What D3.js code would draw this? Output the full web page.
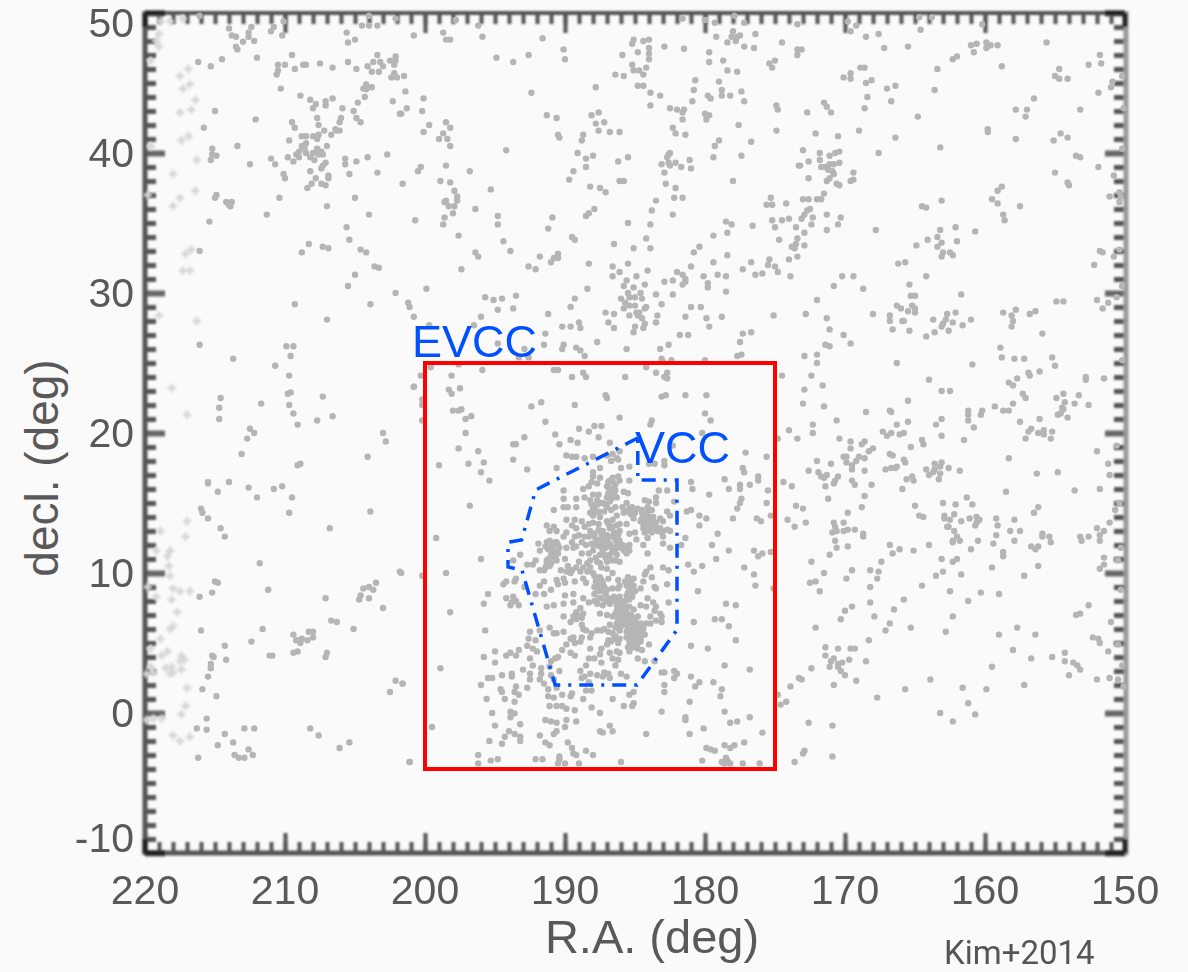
<!DOCTYPE html>
<html><head><meta charset="utf-8">
<style>html,body{margin:0;padding:0;background:#fafafa}svg{display:block}</style>
<script src="https://cdn.jsdelivr.net/npm/d3@7/dist/d3.min.js"></script></head><body>
<svg id="c" width="1188" height="972"></svg>
<script>
const xTickLabels=[220,210,200,190,180,170,160,150];
const yTickLabels=[50,40,30,20,10,0,-10];
const evccBox={raMax:200,raMin:175,decMax:25,decMin:-4};
const vccOutline=[[184.8,19.64],[192.1,15.93],[193.1,12.36],[194.07,12.2],[194.07,10.43],[193.07,10.2],[190.7,2],[184.86,2],[182,5.93],[182,16.64],[184.8,16.64],[184.8,19.64]];
const faintEdge=[[218.9,49.4],[218.2,49.4],[217.3,49.6],[219,48.5],[219.2,48],[219,47.6],[219.6,46.6],[216.9,46],[217.5,45.5],[216.8,44.9],[217.3,44.6],[216.4,43.8],[216.7,43.1],[217.5,42.9],[216.9,41.2],[217.4,40.9],[219.6,40.5],[216.3,39.5],[218,38.5],[216.4,37.3],[217.5,36.8],[218,36.2],[219.8,37],[216.7,33.1],[217.1,32.8],[217.3,31.6],[216.8,31.6],[219,28.4],[216.3,28],
[218.1,23.2],[217,21.3],[217,13.7],[218.9,13],[217.1,12.6],[219.2,11.6],[218.2,11.6],[218.4,11.2],[218.3,10.5],[218.2,9.8],[219.8,9],[218,8.9],[217.5,8.7],[216.8,8.7],[219.2,8.3],[218.1,8.1],[217.7,7.2],[218,6.2],[218.2,6],[218.9,5.3],[219.6,4.6],[218.4,4.4],[218.8,4.1],[217.4,4.1],[217.5,3.7],[217.2,3.8],[219.6,3.3],[219.9,2.8],[219.4,2.9],[218.5,3.2],[218.1,3.3],[218,2.9],[218.2,2.8],[217.4,3.1],[217,1.8],[217.1,0.5],[217.4,-0.1],[219.9,-0.5],[219.4,-0.4],[218.8,-0.4],[218,-1.6],[217.5,-2],[216.8,-1.7]];
const northWest=[[216.1,49.8],[210.1,49.4],[210.2,48.4],[210.8,49],[211,48.7],[214,48.9],[212.4,49],[212.6,48.6],[212.6,48.3],[213.8,48.4],[213.5,48.3],[213,47.95],[212.2,48],[213.5,47.6],[213.4,47.4],[212,46.8],[216.2,46.5],[215.3,46.2],[214.5,46.7],[209.5,47],[210.5,46.3],[210,46.3],[209.3,46],[208.7,46.3],[208.5,46.3],[207.5,46.4],[206.6,46.1],[210.5,45.9],[210.6,45.6],[210.3,44.6],[205.6,48.6],[205,48.1],[205.5,47.9],[204.5,49.1],[204,49.1],[203.4,49.1],[204,49.8],[202.1,49.6],[205.5,46.5],[204.9,46],[203.4,47],[203.7,46.5],[204.1,46.2],[203.8,45.8],[203.3,45.8],[203.2,46.5],[203,46.2],[202.5,46.6],[202.1,46.9],[202.1,46.6],[202.2,46.3],[202.2,45.7],[202.4,45.4],[202,45.4],[204.2,44.9],[204.4,44.6],[204.2,44.55],[203.8,44.7],[204.3,44],[204.8,43.6],[202.3,43.7],[205.1,43],[205.9,43.2],[201.8,42.8],[208.9,44.1],[208.2,43.8],[207.8,43.5],[208,43.2],[207.1,43.4],[207.1,43.7],[206.6,43.9],[215,43],[212.1,42.4],[215.8,41.8],[209.5,42.2],[209.3,41.8],[207.7,42.5],[207.6,42],[206,42.5],[206.1,42.2],[204.9,42.5],[204.6,42.2],[207.2,41.6],[206.4,41.7],[206.3,41.6],[206.1,41.6],[206.7,41.3],[208.8,41.2],[208.5,41.2],[208,41.2],[207.6,41.3],[207.7,41],[209.7,40.9],[213.4,40.5],[215.2,40.3],[214.9,39.8],[215.2,39.9],[215.3,39.5],[212.5,39.2],[211,39.6],[210.7,39.2],[209.8,39.7],[209.4,39.4],
[208.5,40.7],[208.8,40.5],[208.6,40.3],[209,40.1],[209.2,39.9],[209,39.7],[208.5,40],[208.2,39.7],[207.9,39.5],[207.7,40.3],[207.4,40.1],[207.6,39.9],[207,40.5],[207.3,39.9],[208,40],[207.1,39.3],[207.3,39.1],[207.4,38.9],[208.2,38.7],[210.1,38.5],[210,38.2],[207.8,38.2],[206.9,38.4],[206.9,38.2],[208.1,37.8],[207.4,37.8],[207.1,37.7],[208.4,37.5],[205.7,39.6],[205.7,39.2],[204.9,39.4],[204.1,39.7],[202.7,39.9],[203.4,38.6],[205.4,38.5],[210.4,36.8],[205,36.8],[214.9,37],[215,36.8],[214.2,36.5],[213.8,36.5],[214,36.3],[213.9,36.2],[207,36.2],[215.4,35.1],[211.3,35.6],[204,35.6],[205.6,34.7],[205.4,33.8],[208.3,33.5],[208.8,32.9],[207.3,33.3],[206.9,33.2],[204.6,33.1],[204.2,32.9],[216.1,33],[203.6,31.9],[203.3,31.8],[205,31.3],[205.5,30.5],[202.1,30],[209.3,29.2],[203.9,29.2],[207,28.1]];
const northCentre=[[197.8,49.5],[196.2,49.1],[200.8,48.4],[198.7,48.6],[198.5,48.1],[198.2,48.1],[195.9,48.3],[191.6,48.2],[194.9,46.8],[193.7,46.5],[192.6,47],[190.1,47.4],[190,46.7],[201.5,45.5],[201.4,44.4],[192.4,44.3],[200.1,43.9],[200.2,43],[201.3,43.2],[201.7,42.8],[191.3,42.7],[190.6,42.5],[198.5,42.2],[199.7,42],[198.2,41.8],[200.1,41.5],[198.7,41.4],[198.4,41],[199,41],[198.2,40.5],[194.2,40.2],[198.5,39.1],[200.3,39],[200.5,38.7],[196.8,38.7],[198.9,38],[198.2,37.9],[201.6,37.8],[195.3,37.4],[197.9,37.3],[197.7,36.9],[197.7,36.6],[198.5,36.6],[198.6,36.5],[198.3,36.2],[197.9,36.2],[198,35.7],[198.6,35.4],[198.7,34.9],[200.7,35.2],[196.4,36],[194.8,35.5],[194.8,34.9],[197.6,34.1],[194.4,33.7],[193.9,33],[196.4,32.9],[196.2,32.6],[197.4,31.7],[199.9,30.3],[195.7,29.7],[195.1,29.5],[194.5,29.6],[193.5,29.8],[194.8,28.8],[193.7,28.9],[201.2,29.3],[201.1,29],[200.8,28.3],[196,28.3],[196.5,27.7],[199.7,27.7],
[191.8,32.6],[192.6,31.9],[192.1,31.7],[191,32.2],[190.5,32.8],[190.5,32.5],[190.8,32.5],[191.2,34.6],[190.9,35.4],[189.5,34],[189.3,33.8],[188.3,32.1],[188.4,30.3],[189.3,29.6],[189.6,29],[191.2,28.5],[190.2,27.6],[189.6,27.6],[189,27.9],[188.9,27.5],[191.4,27.1],
[190.5,41.3],[190.4,41.1],[188.7,41.3],[188.8,40.9],[188.1,42.7],[187.6,42.9],[187.2,42.2],[187.8,42.1],[187.6,41.6],[186.8,41.5],[186.1,41.5],[189.1,40],[188.5,39.6],[188,39.8],[188.5,39],[189.4,38.7],[189.7,38.1],[188.2,37.6],[187.5,37.5],[187.1,37.2],[186.2,39.4],[185.5,39.7],[186.1,38],[185.8,38],[187.9,36],[188.3,35.7],[188.5,35.5],[187.8,44.7],[186.4,45.6],[185.8,45.5],[185.9,47],[185.2,47.8],[185.1,48.1],[184.4,48],[184,48.1],[184,47.5],[184.8,47.2],[184,47.1],[184,46.7],[185.2,46.3],[185.1,45.9],[184.7,45.9],[184.2,46.1],[184.4,45.6],[184.8,44.8],[184.4,44.8],[183.9,44.3],[183.2,44.1],[183.9,43.4],[182.9,47.6],[181.5,47.45],[179.7,47.2],[179.7,46.5],[178.7,46.6],[178.4,45.9],[177.7,45.8],[179,45.1],[180.7,45.2],[180.8,44.5],[180.9,43.7],[178.8,44.5],[178.8,44.1],[178.2,44.1],[179.8,44.1],[179.6,43.9],[177.4,44.4],[177.2,43.7],[175.4,46.4],[175.2,46.1],[175,46.6],[174.9,43.4],[174.8,43.1],[174.5,47.9],[176.4,48.5],[176.5,47.5],[177.2,47.6],[178.4,47.9],[178.1,48.3],[178,48.7],[177.7,48.3],[177.5,48.4],[177.8,48],[179.2,48.3],[179.3,49.3],[177.2,49.3],[177.9,49.8],[180,49.5],[181.6,49.6],[173.4,49.2],[173.4,47.4],[173.4,47],
[182.5,43.2],[182,43.1],[181.5,43.1],[181.6,42.9],[181.6,42.4],[180,42.8],[179.7,42.7],[179.9,42.4],[177.6,42],[174.9,41.6],[182.3,41.8],[182.1,41.4],[181.4,41.3],[179,40.9],[179.3,40.5],[176.7,40.8],[179.4,39.7],[177.4,39.8],[173.3,39.1],[182.6,39.9],[182.7,39.7],[182.5,40],[183.1,39.2],[182.6,39.3],[182.5,39.1],[182.1,39.3],[181.7,39],[181.1,39.5],[181,38.9],[182.9,38.6],[178,38],[182.8,37.8],[182.1,37.5],[182.2,36.8],[181.6,36.8],[183.5,36.6],[183.8,35.9],[182.3,35.6],[185.5,35],[183.9,34.9],[184.2,33.9],[183.9,33.2],[185.1,33.2],[186.5,33.5],[180.4,33.3],[180.8,32.9],[179.4,34.1],[178.4,34.3],[178.5,35.1],[178.1,34.9],[176.6,34.8],[178.4,32.7],[175.2,35.2],[174.5,35.2],[174,35.3],[175,34.7],[173.5,34.7],[174.7,33.8],[173.4,33.9],[173.5,33.5],[173.8,33.3],[173.6,33.2],[175.3,36.8],[175.6,36.3],[175.2,36.3],[174.2,36.4],[176.7,32.2],[177.3,31.7],[176.4,31.3],[175.9,31.4],[175.4,32.4],[175.5,32],[175,31.9],[174.8,31.5],[174,32.4],[173.9,31.2],[173.4,32.6],[179.4,32.2],[181,31.9],[180.1,31.2],[179.1,31.3],[178.5,31.2],[178.5,30.1],[179.8,30.7],[179.8,30.4],[182,31.5],[181.6,31.3],[181.4,31],[181.4,30.8],[181.6,30.6],[182.9,30.8],[182.3,30.9],[185.5,32.1],[186.6,31.9],[186.1,31.5],[186.6,31.2],[184.1,31.6],[184.9,31.2],[185.6,30.9],[185.8,30.5],[184.3,30.6],[185.1,30.4],[183.5,29.9],[182.3,29.9],
[185.5,30],[184.6,30],[185.4,29.7],[185,29.7],[184.5,29.6],[186,29.6],[185.7,29.3],[185.4,29.1],[185,29.1],[184.2,29],[183.1,29.2],[185.8,28.9],[184.3,28.9],[184.9,28.6],[184.7,28.6],[185.4,28.4],[184.8,28.4],[184.5,28.2],[183.4,28.4],[183.5,27.9],[184.3,27.8],[185,27.6],[184.4,27.5],[187.1,28.6],[186.5,28.5],[186.9,27.9],[186.5,27.5],[185.1,27.2],[181.8,27],[181.2,27],[181,29],[180.3,29],[181.4,28.3],[179.9,28.2],[178.8,28.3],[179.7,27.6],[175.1,28.4],[176.7,27.2],[177.3,27.1]];
const northEast=[[169.8,49.4],[169.2,49.1],[169.6,48.7],[164.7,49.7],[163.8,49.7],[164.6,48.8],[160.2,49.2],[168.5,48.3],[167.6,48.5],[167.2,47.5],[165.5,47.6],[161,47.7],[160.6,47.8],[159.9,47.9],[159.6,47.7],[159.9,47.5],[159.1,47.7],[160.8,47.2],[162.3,46.7],[162,46.9],[163.4,46],[158.8,46.2],[155.6,47.9],[151.8,47],[151.7,46.4],[152.6,46.3],[154.7,46],[155,45.5],[154.7,45.3],[154.1,45.3],[150.9,45.1],[151,44.7],[151.9,44.3],[150.2,45.5],[173.1,47.4],[169.6,45.7],[168.9,46.1],[168.6,46.1],[170.1,45.4],[169.6,45.3],[168.1,45.2],[168.5,45],[167,44.6],[166.4,44.8],[163.6,44.5],[168.4,44],[166.7,43.7],[168.6,43.2],[171.5,43.6],[171.3,43.3],[171,42.9],[172.7,42.9],[164.8,42.6],[156.5,43.9],[157.8,43.1],[157,43.1],[157.1,42.6],[153.2,43.1],[150.1,43.2],[159.8,41.7],[159.8,41.5],[157.8,41],[154.6,41.4],[154.1,41.1],[155.1,40.9],[169,41.6],[172.1,41.4],[170.5,41.2],[166.4,41.1],[163.2,40.4],[167.6,40],[173,40.2],[171.8,40],[170.4,40.1],[170.7,40],[171.1,39.8],[171.8,39.5],[172.6,39.4],[153.5,39.8],[153.2,39.7],[150.2,40.3],[151.9,39],[155,38.6],[150.8,38.4],[169.4,38.6],[170.4,39.3],[171.1,39.2],[170.8,39.2],[171.7,39],[171.4,39],[171.2,38.8],[170.9,38.7],[170.8,38.5],[172.6,38.2],[171.3,38],[171.1,38.2],[170.6,37.8],[170.4,37.7],[169.6,38],[169.4,38.1],[173.2,39.1],[158.8,37.6],[159.1,37.3],[154.1,37.9],[154,37.7],[159.5,36.7],[159.1,36.4],[157.5,36.2],[158.7,35.6],[158.6,35.2],[151.1,36.9],[150.4,37.2],[150.3,36.9],[150.4,36.5],[164.5,36.2],[164.2,36.1],[163.1,36.6],[171.5,37.1],[172,36.7],[171.7,36.7],[173,36.7],[172.6,36.7],[170.3,35.4],[171.3,35.6],[172.3,35.4],[172.7,35.9],[172.5,36],[172.9,35.6],[173.1,35.3],[172.4,34.9],[170.5,34.9],[171.3,34.5],[172.9,34.3],[172.9,33.4],[167.8,34.5],[163.2,34.5],[162.1,34.7],[160.7,34.4],[163.4,34],[163.1,33.6],[164.1,33.8],[162,33.7],[163.4,33.3],[164.9,33.4],[163,32.9],[163.1,32.6],[162.5,32.9],[162.3,32.7],[165.7,32.2],[166.2,32.1],[151.8,33],[151.6,32.9],[150.4,33.1],[150.8,32.6],[152.2,32],[164.2,31.2],[170.2,31.2],[169.4,31.2],[170.8,30.5],[168.7,30.3],[165.4,30.6],[172,29.5],[165.3,29.8],[165,29.8],[161.7,29.9],[150.2,30.5],[150.6,29.7],[166.3,29.1],[166,28.9],[165.2,29.1],[165,28.9],[165,28.6],[165.5,28.7],[172.8,28.5],[168,28.5],[166.8,28.4],[166.8,28],[165.9,28],[165.8,28],[171.3,28.2],[171.1,27.4],[170.1,27],[166.6,27.4],[165.4,27.3],[164.2,26.9],[163.6,27.2],[162.6,27.3],[163.7,28.1],[162.7,28.5],[162.1,28.6],[162.8,28.1],[163,27.8],[163.1,27.6],[162.3,27.9],[161.6,27.7],[161,28.1],[158.7,28.6],[158.1,28.4],[157.8,28.8],[158,28],[158.1,27.6],[156.8,28.5],[156.4,28.7],[155.9,27.1],[154.9,29.4],[154.4,29.4],[152,29.5],[151.2,29.3],[151.6,28.9]];
const southEast=[[171.4,26.3],[171.1,26.2],[169.6,26.4],[172.9,25.5],[172,25.6],[172,25],[166.3,25],[160.9,24.9],[158.9,26.1],[158.8,25.4],[157.9,25.3],[157.2,25.3],[155.2,25.4],[155,24.8],[150.2,25.2],[172.4,24.1],[171.6,23.4],[172.9,23.1],[164,23.8],[163.1,23],[162.5,23],[156.9,24.3],[156.8,24.1],[156.1,24.4],[157.7,23.9],[158.3,23.6],[158,23.4],[152.8,24],[152.8,23.8],[151.5,23.9],[157.3,22.8],[157.1,22.5],[154.4,22.8],[154.9,22.5],[153.3,22.7],[173,22.1],[171.5,21.9],[165.5,22.3],[158,22.1],[159.3,21.9],[158.7,21.6],[158.3,21.6],[154.3,22.2],[153.6,22.1],[152.6,22],[154.5,21.8],[154.4,21.7],[154.8,21.3],[154.6,21.4],[154.1,21.1],[168.5,21.5],[166.8,21.6],[166.7,21.5],[161.2,21.6],[161.2,21.3],[160.2,21.6],[160.3,21.3],[163.1,21],[161.2,20.9],[170.6,20.9],[165.5,20.8],[163.5,20.6],[166.3,20.6],[172.3,20.6],[160.8,20.4],[157.5,20.8],[156.1,21],[156.7,20.3],[156.9,20.1],[155.2,20.1],[155.8,20.2],[156.2,20],[155.8,19.9],[155.3,19.6],[157.1,19.6],[167.3,20.1],[166.7,20],[167,19.8],[166.1,19.9],[165.8,20],[172.3,20],[163.1,19.8],[170.4,19.6],[161.5,19.5],[169.6,19.4],[168.6,19.4],[168.8,19.2],[164.5,19.5],[164.4,19.2],[165.3,19],[168,18.9],[168.3,18.7],[169.6,18.9],[166.8,18.5],[166.6,18.4],[152,18.7],[150.6,19.1],[158.3,18.2],[170.1,18.3],[169.9,18.3],[169,18.3],[169.2,18],[169.5,17.7],[169.9,17.9],[169.5,17.4],[168.6,18.2],[172,18],[171,17.8],[165.8,18.1],[165.7,17.9],[163.1,17.9],[163.6,17.8],[151.2,17.8],[162.6,17.5],[161.8,17.3],[163.2,17.6],[164.2,17.4],[163.6,17.4],[164,17],[163.7,17.2],[163.2,17.1],[163.3,16.7],[166.3,17.6],[166.4,17.5],[166.7,17.5],[167.1,17.4],[168.6,17.3],[172.6,17.3],[171.9,17.2],[171.7,16.9],[171.5,16.8],[171.3,17],[170.5,16.9],[170.7,16.6],[170.8,16.4],[169.5,16.6],[169.3,16.3],[171.4,16.2],[168.1,16.3],[165.6,16.7],[165.2,16.9],[165.1,16.6],[165.9,16],[156.3,17.1],[154.8,17.2],[151.1,17],[153.6,15.9],[151.8,16],[158.5,15.8],[171.2,15.3],[168.6,15.5],[168.8,14.7],[173,14.6],[165,14.8],[163,15],[161.3,15.4],[162.1,14.9],[160.9,14.9],[150.4,15],[156.2,14.7],[150.7,14.5],[156.5,14.3],[169.8,14.3],[164.7,14.1],[164.4,14],[162.2,14.2],[162.9,14.1],[162.9,13.9],[162.5,13.8],[161.7,13.7],[161.1,13.9],[160.6,14],[160.4,13.8],[160.7,13.4],[160.6,13.6],[159.2,13.9],[159.1,13.4],[157.9,13.8],[151.1,13.6],[172.8,13.6],[170.8,13.6],[170.7,13.3],[170.1,13.6],[162.7,13.3],[162.6,13.3],[152,13.2],[169.3,13.1],[169.8,13.1],[170.1,13],[170.6,13],[170.9,12.9],[168.7,12.8],[168.7,12.6],[162.2,13],[158.2,13],[157.5,13],[151.5,13],[151.8,12.7],[162,12.6],[161.8,12.3],[162.3,12.3],[162.3,12.2],[155.9,12.8],[155.9,12.6],[155.4,12.6],[159.2,12.7],[153.2,12.6],[153.1,12.3],[152.6,12.6],[151.8,12.3],[160.5,12.3],[157.9,12.3],[155.3,12.2],[159.4,12.1],[170.7,12.3],[166.8,12],[164,12],[169.8,11.9],[170.6,11.8],[166.1,11.7],[165.1,11.6],[161,11.7],[156.7,11.9],[156.4,11.7],[156.2,11.9],[150.3,11.8],[166.6,11.4],[171.1,11.3],[158.7,11.5],[158.7,11.2],[163.1,11],[162,11],[162.3,10.8],[167.4,10.8],[151.5,11.1],[150.5,10.9],[172.4,10.8],[151.8,10.3],[151.5,10.6],[156.2,10.5],[159.5,10.4],[169.5,10.2],[168.2,10.2],[167.6,10.1],[163,10.1],[161.7,9.9],[171.5,10],[157.2,9.8],[163.5,9.8],[167.7,9.6],[169.9,9.6],[172.1,9.4],[172.5,9.3],[164.5,9.1],[168.2,9],[171.8,8.7],[162.5,8.7],[150.3,8.8],[160.3,8.6],[159,8.5],[161.2,8],[165.8,8.1],[168.2,7.9],[152.6,7.7],[169.5,7.6],[170,7.3],[166.5,7.4],[153.5,7],[153.2,7.1],[162.3,6.9],[167.9,6.9],[170.3,6.7],[151,6.5],[166.8,6.4],[172.1,6.1],[165.3,6.1],[157.7,6.1],[167.1,5.9],[162.8,5.8],[159,5.6],[156.4,5.6],[152.3,5.4],[151.9,5.3],[151.8,5],[168.3,5.2],[171.4,4.7],[170.5,4.6],[169.6,4.6],[169.3,4.6],[158,4.5],[151.2,4.4],[150.5,4.9],[154.3,4.3],[171.4,4.1],[170.8,3.9],[171,3.7],[169.7,3.8],[170.2,3.6],[170.5,3.5],[168.5,3.7],[156.7,3.9],[155.2,4],[154.3,3.7],[153.7,3.6],[153.4,3.4],[153.2,3.1],[150.2,3.4],[171.1,3.3],[170.5,3.3],[172.4,3.2],[159.5,3.3],[170.3,3],[170,2.7],[154,2.7],[152,2.4],[151.1,2.5],[150.5,2.4],[173.1,2.4],[169.2,2.3],[163.9,2.4],[170.8,2],[165.7,1.7],[161.6,1.8],[159.9,1.7],[157.2,2],[150.1,1.9],[167.7,1.1],[161.2,0.7],[163.2,0],[160.7,-0.1],[162.3,-0.6],[172.6,-0.7],[170.9,-0.9],[172.9,-2.7],[173,-2.9],[170.9,-3.1]];
const evccField=[[191.5,26.3],[190.1,26.3],[190.2,26],[189.2,26.1],[188.9,25.9],[188.6,25.5],[187.7,26.5],[185.6,26],[183.2,26],[182.6,26.3],[177.5,26.5],[177.4,25.6],[177.7,25.5],[183.1,25.3],[183,25.1],[182.4,25.2],[180,25.2],[193.3,25.4],[192.9,26],[192.6,25.4],[194.8,26.4],
[199.6,24.7],[197.6,24.9],[200.3,24.1],[198.1,24.1],[195.9,24.5],[200.8,23.3],[198.3,23.1],[198.1,22.8],[197.5,23.2],[200.2,22.4],[200.2,22],[198,21.6],[197.6,21.6],[197.4,21.7],[196.7,21.2],[197.1,21],[200.2,20.9],[197.1,20],[197.6,18.9],[196.2,18.7],[195.8,17.9],[196.9,17.8],[199,17.7],[196,17.2],[195.4,16.6],[196.8,14.8],[199.2,12.5],[196,11],[198.5,10],[200.2,9.8],[201.7,10],[198.2,7.2],[195.7,5.9],[198.9,3.2],[201.6,2.1],[199.5,-1],[201.1,-3.5],[196.2,-3],[196.2,-3.6],[195.3,-3.4],[194.8,-3.3],[195.4,-2],[194.5,-2.2],[194.3,-1.7],[194,-1.3],[193.6,-1.5],[193.2,-1.7],[193.2,-2],[193.2,-0.8],[195,-0.9],[195.2,0],[193.9,0.1],[193.9,-0.3],[193.6,-0.03],[195.6,1],[194.3,1],[193.6,0.8],[196,2],[195.5,2.5],[195.2,2.5],[194.6,1.7],[194.5,1.5],[194.5,2.7],[193.8,2.8],[193.8,2.6],[193,3.1],[193.5,1.9],[193.6,1.5],[193.3,1.3],[192.7,1.8],[195.8,4],[195,4.4],[195,3.6],[194.2,4.1],[193.9,4.3],[193.3,4.5],[193.5,4.1],[192.5,5.8],[192.6,5.3],[192.7,4.8],[192.1,5.2],[192.3,4.6],[192,4.4],[192.5,3.9],[192.3,3.4],[192.5,2.8],[192.5,2.4],[191.7,3.2],[191.7,2.8],[191.8,2.4],[191.5,2.1],[191.2,1.7],[191.2,1.2],[190.8,1.1],[191.1,0.5],[190.6,0.5],[190.2,0.5],[189.9,0.3],[189.3,0.2],[189.6,1.2],[190.2,1.3],[190.6,1.8],[188.7,1],[188.1,0.4],[187.5,0],[191.4,-0.5],[191,-0.6],[190.6,-0.7],[189.9,-0.5],[189.2,-0.6],[190,-1],[190.8,-1.5],[190.6,-1.3],[191.8,-1.6],[191.4,-2.1],[191.1,-2.3],[189.8,-2.1],[189.5,-2.5],[189.4,-2.9],[189.2,-3],[188.5,-2.7],[188,-3],[190.4,-3.1],[190.4,-3.3],[192.1,-3.3],[191.6,-3.3],[190.5,-3.6],[190,-3.6],[189,-3.6],[186,-3.5],[187.5,-1.3],[187.3,-1.4],[186.8,-0.9],[186.6,-1.3],[184.2,-1.5],[185.8,0.5],[185.2,0.5],[185.1,0.7],[185.4,1.3],[185.1,1.5],[186.6,1],[183.1,0.1],[182.9,2],[182.9,1.5],[183.1,2.9],[182.9,2.9],[182.2,3],[182,2.8],[182.2,2.5],[181.1,0.8],[181.4,-0.3],[181.4,-0.5],[180.1,-1.1],[181.1,-1.5],[181,2.6],[180.7,1.9],[180.4,2.2],[179.4,2.2],[178.8,1.7],[178.9,1.2],[178.6,3.4],[176.8,3.1],[174.8,1.3],[174.2,0.8],[174.6,0.6],[173.9,1.9],[173.3,2.5],[178.6,0.1],[178.2,-0.7],[177.7,-0.6],[176.8,-0.3],[175.9,-1.4],[177.2,-2.1],[178.6,-2.3],[178.2,-2.5],[177.9,-2.3],[179.9,-2.5],[179.6,-2.6],[179.3,-2.7],[180.2,-3.4],[178.8,-3.5],[178.5,-3.2],[178.6,-3.6],[178.2,-3.6],[178.4,-3.4],[177.3,-3.6],[176.1,-3.6],[173.6,-3.5],
[174.5,24.1],[182.7,24.3],[182.9,24],[183.5,24.3],[182.7,23.9],[185.7,24],[184.2,24.7],[188.7,24.3],[188.5,24],[189.5,24],[190.8,24.5],[190.5,24.5],[187.1,22.7],[187,22.5],[183.1,22.6],[182.8,22.7],[181.4,22.7],[179.9,22.7],[191.7,22.2],[192.4,21.9],[189.3,22],[180,21.4],[179.6,20.9],[186.1,21.1],[183.8,20.9],[183.9,20.6],[191.4,20.8],[187.4,20.5],[187.9,20.5],[188.3,20.1],[189,20.3],[190.7,19.9],[174,20.2],[173.4,19.6],[174.8,19.6],[180.2,20],[187.6,19.7],[189.6,19.5],[192.9,19.7],[193.7,19.2],[193.5,19.2],[190.4,19.2],[189.1,19.3],[186.8,19.3],[182.3,19.1],[177.1,18.6],[193.7,18.1],[192.7,17.4],[175.6,18.3],[177.3,17.5],[177.2,17.2],[176.2,16.9],[176.2,16.6],[178.6,16.7],[181,16.5],[174.4,16.5],[173.8,16.2],[177.5,16.3],[177.5,16],[176.8,16.3],[178.3,16],[180.9,16],[175.5,15.9],[179.7,15.6],[177.4,15.3],[177.5,15],[175.6,15],[177.7,14.6],[173.5,14.8],[181.3,14.4],[181,14.5],[182.2,15.1],[180.4,14.1],[179.9,13.9],[178,13.9],[176.3,13.9],[176,13.7],[174.1,13.8],[173.6,13.3],[175.3,14.1],[180.4,13.4],[179.1,12.8],[181.4,12.5],[181.7,12],[179.5,12],[178.3,11.6],[176.5,11.6],[176.2,11.2],[175.9,11.4],[175.3,11.5],[179.2,11],[181.2,10.6],[180.2,10.5],[180.8,10.1],[177.2,10.4],[176.5,9.9],[176.4,9.1],[180.5,8.7],[175.1,8.9],[178.5,7.8],[177.8,7.7],[179.3,6.7],[178.8,6.7],[180.8,6.5],[178.3,6.2],[177.8,5.2],[181,4.8],[179.8,4.6],[182.7,9.2],[182.6,10.2],[183,10.4],[182.6,7.9],[183.1,6.5]];
const virgoCore=[[189.9,18.4],[189.5,18.3],[189.2,18.3],[188.6,18.2],[188,18.3],[186.6,18.5],[186.1,18.7],[186.3,18.2],[187,18.4],[190.6,17.5],[187.5,17.5],[188,17.2],[185.4,17.6],[186,17.5],[186.7,18],[186.2,18.1],[184,17.8],[183.6,17.8],[182.9,17.7],[182.9,18],[190.1,15.9],[188.7,16],[188,16.9],[187.5,16.8],[188.1,16.5],[186.8,16.6],[186.2,16.9],[186.6,16.5],[186.1,16.6],[185.4,16.6],[188.3,16.2],[187,16.2],[186.6,16],[187.7,16.4],[186.9,15.7],[186.5,15.6],[185.8,15.8],[185.5,15.7],[188.6,15.4],[187.5,15],[187,15.4],[186.7,15.3],[188.2,15.2],[187.7,15.2],[188.1,14.9],[187.3,15],[189.2,15.3],[190.1,15.3],[185.6,15],[185.2,14.7],[184.3,15.2],[184,15.1],[183.5,15.4],[183.3,15.9],[182.7,15.9],[183.5,15],[190.1,14.7],[189.8,14.7],[189.2,14.7],[190.8,14.5],[188,14.6],[187,14.7],[185.4,14.6],[184.1,14.7],[183.8,14.5],
[188.2,14.3],[188,14.1],[187.5,14],[186.3,14.1],[185.8,14.3],[185.1,13.9],[184.5,13.9],[184.1,14.3],[183.7,14],[182.7,14.4],[182.5,14.1],[183.2,13.9],[186.6,13.8],[187,13.7],[189.9,13.8],[189.3,13.8],[188.8,13.7],[187.6,13.5],[191.3,13.4],[190.8,13.3],[189.5,13.4],[188.6,13.3],[186.1,13.5],[185.6,13.5],[184.6,13.7],[184.2,13.5],[183.7,13.7],[183,13.7],[186.6,13.3],[191.1,13],[190.6,13],[189.9,12.9],[189.2,13.2],[188.2,13],[187.3,13],[186.8,13.2],[186.1,13],[185.4,12.8],[185,12.9],[184.4,13.2],[183.9,13],[183.5,13.2],[183,13],[182.5,13],[190.1,12.6],[189.3,12.6],[187.9,12.6],[187,12.7],[186.6,12.6],[184.9,12.4],[184.1,12.5],[183,12.6],[187.5,12.4],
[191.9,12.1],[191.3,12.2],[190.7,12.2],[190.5,12],[189.5,12.2],[188.8,12.2],[188.1,12.1],[187.7,12],[187.3,12.1],[186.8,12.1],[186.3,12.1],[185.4,12],[184.4,12],[183,12.1],[182.5,11.8],[190.8,11.6],[190.4,11.8],[189.9,11.8],[189.4,11.8],[188,11.6],[187.3,11.6],[186.6,11.8],[185.8,11.6],[185.4,11.6],[184.1,11.4],[193.2,11.3],[191.8,11.6],[191,11.3],[190.5,11.4],[188.8,11.4],[188.3,11.4],[187.5,11.3],[186.8,11.3],[186.3,11.3],[185.6,11.4],[193.7,10.9],[192.1,10.9],[191.1,11],[190.6,10.9],[190,11],[188.2,10.9],[187.7,10.8],[187,10.8],[186.6,10.9],[192.7,10.6],[192.3,10.6],[191.3,10.7],[191,10.7],[189.2,10.4],[188.7,10.4],[188.2,10.4],[187.4,10.4],[187,10.3],[186.1,10.8],[183.9,10.4],[191.5,10.2],[191.8,10.2],[189.9,10.1],[189.5,10.2],[186.6,10],[184.2,10.1],[184.3,9.9],
[193.5,9.6],[194.4,9.2],[194.2,9.4],[193.6,9.4],[190.6,9.5],[190.1,9.6],[189.6,10],[188.7,9.6],[187.5,9.7],[186.9,9.6],[186.2,9.5],[185.5,9.7],[185.1,9.6],[183.8,9.7],[184.4,9.4],[191.5,9.4],[191.8,9.1],[192.9,9],[191,8.8],[188.5,9.3],[187.6,9.1],[187.3,9.3],[186.6,8.9],[185.6,9.1],[185.4,8.9],[183.6,9],[183.5,8.9],[184.6,8.9],[186.2,8.9],[195.5,8.5],[193.7,8.3],[194.2,8.2],[193.8,7.9],[193.5,8],[192.1,8.5],[191.5,8.5],[190,8.4],[189.4,8.5],[188.7,8.2],[188.3,7.9],[187.9,8.5],[187.5,8.7],[187.1,8.5],[186.5,8.3],[186.1,8.3],[185.6,8.4],[185.2,8.3],[193.9,7.7],[193.3,7.7],[191.3,7.6],[190.8,7.7],[190.1,7.8],[189.4,7.9],[187.7,7.8],[187.3,7.7],[186.8,7.8],[186.3,7.7],[184.6,7.7],[184.1,8.2],[183.7,7.9],[183.5,7.6],[184.2,7.6],[195.8,7.8],
[189.2,7.2],[188.7,7.1],[187.5,7.1],[187,7],[186.3,7.3],[186,7.1],[185.6,7.2],[185.1,7.4],[183.6,7.3],[183.2,7.1],[190.1,6.9],[189.4,6.9],[188.8,6.8],[186.6,6.9],[186.1,6.8],[185.6,6.6],[185.1,6.8],[184.8,6.9],[183.9,6.9],[183.5,6.6],[183.1,6.9],[189.6,6.5],[188.8,6.3],[186.8,6.3],[186.3,6.4],[184.6,6.4],[184.2,6.4],[183.9,6.4],[191.1,6.1],[191.8,5.9],[190.8,5.7],[190.6,5.7],[190.1,5.8],[188.7,6],[188.1,5.7],[187.7,5.9],[187.4,5.9],[186.9,5.8],[186.6,5.7],[186.1,5.9],[185.6,5.8],[185.1,6],[184.8,5.9],[184.4,6],[189.4,5.4],[189.6,5.3],[188.8,5.4],[188.2,5.4],[186.9,5.2],[186.1,5.3],[185.6,5.4],[185.2,5.6],[184.9,5.6],[184.5,5.6],[185,5.1],[185.4,5.1],[184.6,5.1],[185.2,6.2],[185,6.4],[184.8,6.3],[185.4,6.4],[185.1,5.8],[184.8,5.7],[185.2,5.3],[184.9,5.3],[184.5,5.9],[184.3,5.6],
[189.9,4.9],[189.3,5],[188.9,5.1],[188.2,4.6],[187.4,4.6],[186.2,5],[185.5,4.7],[185.1,4.7],[184.8,4.6],[184.5,4.5],[184,4.9],[189.6,4.3],[190.2,4.5],[187.5,4.2],[186.8,4.3],[186.3,4.4],[186.1,4.3],[185.4,4.4],[190.5,4],[190.7,3.9],[191,3.7],[189.3,4.1],[188.3,3.9],[187.9,3.9],[186.6,3.9],[186.2,3.8],[184.8,3.9],[184.3,3.7],[183.6,3.7],[188.5,3.4],[187.4,3.6],[186.4,3.4],[191.1,3.3],[190.4,3],[188.9,3],[188.2,2.8],[188.6,2.6],[187.2,2.9],[186.9,2.8],[186,2.8],[185.6,2.6],[191,2.7],[190.8,2.4],[188.8,2.5],[188.3,2.2],[187.7,2.7],[187.3,2.6],[186.8,2.5],[188.5,1.6],[188.1,1.6],[189.5,1.4]];
const virgoDense=[[187.6,13.1],[187.4,12.8],[187.2,12.5],[187,12.3],[186.8,12.6],[186.5,12.9],[186.4,12.4],[186.9,11.9],[187.1,11.8],[187.5,11.9],[187.8,12.3],[188,12],[186.6,11.5],[186.4,11.7],[186.1,12.3],[185.9,12],[186,11.8],[185.7,11.9],[185.5,11.8],[187.2,11.3],[187.1,11.1],[186.9,11],[186.4,10.9],[187.8,11.1],[187.5,10.7],[187.9,12.8],[186.2,12.7],[186.3,13.4],[186.9,13.5],
[186.2,7.5],[186,7.6],[185.8,7.4],[185.7,7],[185.5,6.9],[185.3,7],[185.9,6.8],[185.9,6.5],[185.4,6.7],[185.7,6.3],[185.5,6.1],[185.3,6.1],[186,6.2],[186.2,6.7],[186.4,7.1],[185.8,7.7],[185.4,7.6],[185,6.6],[184.9,6.1],[184.6,6.1],
[185.3,5.9],[185,5.7],[184.7,5.5],[185.3,5.5],[185.1,5.4],[184.8,5],[185.2,4.9],[184.9,4.9],[185,6.2],[184.7,6.1],[185.4,5.8],[184.6,5.3],[184.7,5.9],[185.3,5.2],[184.5,6.2],
[191.2,11.7],[191,11.8],[190.9,12],[190.7,11.5],[190.9,11.2],[191.2,11],[191.3,10.9],[190.7,11.1],[191.1,10.5],[191.4,10.4],[190.6,12.2],[191.1,12.3],[191.4,11.9],
[184.4,13.5],[184.1,13.2],[183.8,13.4],[183.6,13.5],[183.4,13],[183.2,13.2],[183.8,12.9],[183.1,12.9],[182.7,13.1],[184.3,12.9],[184,13.6],[183.5,13.6],[184.5,14.5],[184.3,14.1],[184,14],[184.2,13.9],
[186.6,16.8],[186.4,16.3],[186.9,16.1],[186.7,15.8],[186.4,15.9],[186.9,16.5],[186.3,15.4],[186.8,15.1],[187.1,14.9],[187.9,14.7],[187.7,14.9],[187.6,14.4],[187.9,14.3],[187.6,15.6],[188,15.6],
[187.9,9.8],[187.8,9.4],[187.4,9.5],[187.2,9],[187.9,9],[187.7,8.8],[187.4,8.8],[187,8.8],[186.9,8.2],[187.4,8.2],[187.6,8.2],[187.9,8],[187.1,8],[186.7,8.1],[186.4,8],[186,8],[185.7,8],[185.4,8.1],[185.3,9.3],[185.7,9.4],[185.1,9.1],[185,8.7],[185.5,8.6],[185.2,8.6],[186.1,9.1],
[188.4,10.7],[189,10.8],[188.9,10.1],[188.4,10.1],[188,10],[189.8,10.5],[190.3,10.2],[189.2,11.9],[188.5,12],[188.3,12.6],[188.6,12.6],[188.3,13.5],[188,13.6],[189,12.7],[190.5,9.2],[190,9.3],[189.3,9.4],[187.2,14.4],[186.7,14.5],[186.4,14.7],[185.9,14.7],[185.6,14.4],[185.3,14.2],[185,14.3],[184.8,14.6],[184.5,14.3],
[189,6.9],[188.9,7.5],[189.2,6.7],[188.5,5.9],[187.2,6],[186.5,5.3],[186.4,5.5],[186.7,5.1],[187,4.9],[186.4,6.1]];
const southWest=[[216.1,26.3],[213.7,25.3],[209.9,26.2],[209.4,26.2],[209.6,25.5],[210.7,24.8],[209.7,24.1],[209.6,22.9],[209.8,22.8],[214.6,22.5],[207.3,22.6],[214.7,21.8],[211.7,22.1],[209.7,22],[209.4,21.4],[214.7,21],[207.7,20.9],[206.6,21.2],[209.1,20.6],[212.5,20.3],[212.2,20],[212.7,19.6],[213.1,18.5],[203,20],[202.8,19.4],[204.1,18.3],[209.1,17.7],[208.9,17.8],[200.8,23.3],[215.5,16.5],[215.5,16.4],[214,16.5],[212.6,16.1],[214.8,15.8],[210.8,16],[210.2,16.2],[212,15.4],[209.5,15.4],[216,14.6],[215.9,14.3],[215.5,13.9],[209.7,14.3],[203.9,14.4],[214.6,13.2],[214.3,12.6],[206.8,13.2],[211.8,10.7],[201.8,10.1],[215,9.4],[214.8,9.3],[215.2,8.6],[216.1,8.3],[211.2,8.8],[207.1,8.2],[204.4,8.9],[204.6,8.4],[204.7,8.1],[204,9],[203.7,8.8],[203.5,9.3],[204,8.2],[203,7.5],[206.7,6.6],[206.3,6.5],[205.1,6],[211.6,6],[216,5.9],[209.4,5.6],[212.4,5.1],[214.3,4.8],[208.3,5.8],[208,5.8],[208,5.4],[208.4,5.2],[209.2,5.2],[208.9,5.2],[208.8,5.3],[208.9,5],[215.2,4.1],[215.1,4],[214.2,3.8],[211.1,4.1],[210.9,4.1],[209.4,4.3],[209.1,4.4],[207,4.3],[207.1,4],[215.3,3.5],[215.3,3.2],[215.5,2.6],[215.9,1.7],[214.9,1.2],[202.1,2.3],[201.6,2.1],[202.5,1.5],[215.6,-0.4],[216.3,-1.1],[215.6,-1.2],[212.9,-1.1],[212.2,-1.1],[214.3,-1.5],[208.2,-1.1],[207.6,-1.6],[214.8,-2.3],[213.7,-2.1],[205.4,-2.1],[206.1,-2.5],[212.6,-2.6],[212.3,-3],[213.6,-3],[213.3,-3.2],[212.9,-3.2],[216.2,-3.2],[201.1,-3.5]];

const x=d3.scaleLinear().domain([220,150]).range([145,1125]);
const y=d3.scaleLinear().domain([50,-10]).range([13,853]);
const svg=d3.select('#c');
const defs=svg.append('defs');
defs.append('filter').attr('id','soft').attr('x','-5%').attr('y','-5%').attr('width','110%').attr('height','110%').append('feGaussianBlur').attr('stdDeviation',0.9);
defs.append('filter').attr('id','softer').append('feGaussianBlur').attr('stdDeviation',0.9);
const minorX=d3.range(150,221), minorY=d3.range(-10,51);
const axesG=svg.append('g').attr('filter','url(#soft)');
function ticks(axis,tx,vals,size,width,color){
  const g=axesG.append('g').attr('transform',tx).call(axis.tickValues(vals).tickSize(size).tickFormat(''));
  g.select('.domain').remove();
  g.selectAll('line').attr('stroke',color).attr('stroke-width',width);
}
ticks(d3.axisLeft(y),'translate(145,0)',minorY,-11,5,'#555');
ticks(d3.axisRight(y),'translate(1125,0)',minorY,-11,5,'#555');
ticks(d3.axisBottom(x),'translate(0,13)',minorX,11,4,'#555');
ticks(d3.axisTop(x),'translate(0,853)',minorX,11,4,'#555');
ticks(d3.axisLeft(y),'translate(145,0)',yTickLabels,-20,6,'#666');
ticks(d3.axisRight(y),'translate(1125,0)',yTickLabels,-20,6,'#666');
ticks(d3.axisBottom(x),'translate(0,13)',xTickLabels,20,4,'#555');
ticks(d3.axisTop(x),'translate(0,853)',xTickLabels,20,4,'#555');
const sp=(a,b,c,d,col,w)=>axesG.append('line').attr('x1',a).attr('y1',b).attr('x2',c).attr('y2',d).attr('stroke',col).attr('stroke-width',w);
sp(145,13,1127,13,'#555',4);
sp(145,853,1127,853,'#555',5);
sp(145,11,145,855,'#555',5);
sp(1126,11,1126,855,'#999',5);
[[145,13],[1125,13],[145,853],[1125,853]].forEach(c=>{
  const sx=c[0]<500?1:-1, sy=c[1]<500?1:-1;
  sp(c[0],c[1],c[0]+sx*20,c[1],'#222',5);
  sp(c[0],c[1],c[0],c[1]+sy*14,'#222',5);
});

const faintSym=d3.symbol().type(d3.symbolCross).size(38);
svg.append('g').attr('filter','url(#softer)').selectAll('path').data(faintEdge).join('path')
  .attr('d',faintSym).attr('fill','#d6d6d6')
  .attr('transform',d=>`translate(${x(d[0])},${y(d[1])})`);
const solid=[].concat(northWest,northCentre,northEast,southEast,evccField,virgoCore,virgoDense,southWest);
svg.append('g').selectAll('circle').data(solid).join('circle')
  .attr('cx',d=>x(d[0])).attr('cy',d=>y(d[1])).attr('r',3.2).attr('fill','#b5b5b5');

svg.append('rect').attr('x',x(evccBox.raMax)).attr('y',y(evccBox.decMax))
  .attr('width',x(evccBox.raMin)-x(evccBox.raMax)).attr('height',y(evccBox.decMin)-y(evccBox.decMax))
  .attr('fill','none').attr('stroke','#ff0000').attr('stroke-width',4);
svg.append('path').attr('d',d3.line().x(d=>x(d[0])).y(d=>y(d[1]))(vccOutline))
  .attr('fill','none').attr('stroke','#0050ff').attr('stroke-width',3.5).attr('stroke-dasharray','14 8 3 8');

const font='"Liberation Sans",Arial,sans-serif';
const label=svg.append('g').attr('font-family',font).attr('fill','#595959');
label.selectAll('text.xl').data(xTickLabels).join('text').attr('class','xl')
  .attr('x',d=>x(d)).attr('y',904).attr('text-anchor','middle').attr('font-size',41).text(d=>d);
const yShift=v=>v===50?10:v===-10?-15:0;
label.selectAll('text.yl').data(yTickLabels).join('text').attr('class','yl')
  .attr('x',134).attr('y',d=>y(d)+14+yShift(d)).attr('text-anchor','end').attr('font-size',41).text(d=>d);
label.append('text').attr('x',652).attr('y',953).attr('text-anchor','middle').attr('font-size',47).text('R.A. (deg)');
label.append('text').attr('transform','translate(58,468) rotate(-90)').attr('text-anchor','middle').attr('font-size',46).text('decl. (deg)');
svg.append('text').attr('x',412).attr('y',357).attr('font-family',font).attr('font-size',45).attr('fill','#0050ff').text('EVCC');
svg.append('text').attr('x',635).attr('y',463).attr('font-family',font).attr('font-size',45).attr('fill','#0050ff').text('VCC');
svg.append('text').attr('x',944).attr('y',964).attr('font-family','Roboto,sans-serif').attr('font-size',33).attr('fill','#555').text('Kim+2014');
</script></body></html>
